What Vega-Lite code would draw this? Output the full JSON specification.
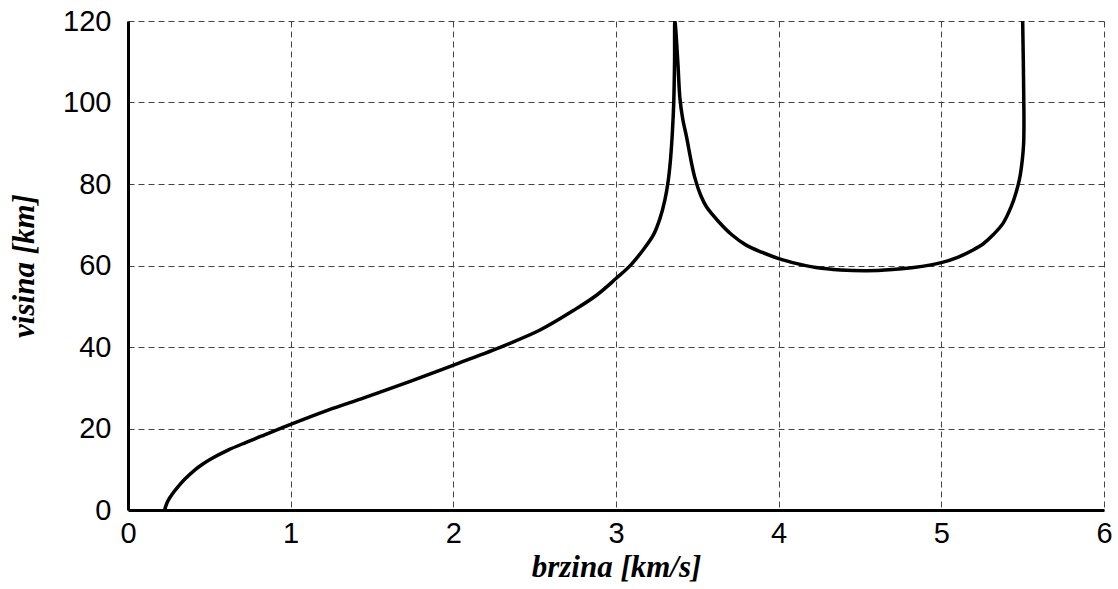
{
  "$schema": "https://vega.github.io/schema/vega-lite/v6.json",
  "width": 976,
  "height": 489,
  "autosize": "none",
  "padding": {"left": 128, "top": 21, "right": 14, "bottom": 79},
  "background": "white",
  "config": {"view": {"stroke": null}},
  "data": {"values": [
    {"i":1,"v":0.225,"h":0},
    {"i":2,"v":0.24,"h":1.8},
    {"i":3,"v":0.26,"h":3.2},
    {"i":4,"v":0.285,"h":4.6},
    {"i":5,"v":0.307,"h":5.7},
    {"i":6,"v":0.35,"h":7.6},
    {"i":7,"v":0.41,"h":9.8},
    {"i":8,"v":0.46,"h":11.3},
    {"i":9,"v":0.512,"h":12.6},
    {"i":10,"v":0.615,"h":14.7},
    {"i":11,"v":0.72,"h":16.5},
    {"i":12,"v":0.82,"h":18.1},
    {"i":13,"v":1.0,"h":21.0},
    {"i":14,"v":1.23,"h":24.5},
    {"i":15,"v":1.45,"h":27.5},
    {"i":16,"v":1.64,"h":30.2},
    {"i":17,"v":1.85,"h":33.3},
    {"i":18,"v":2.03,"h":36.0},
    {"i":19,"v":2.31,"h":40.3},
    {"i":20,"v":2.53,"h":44.1},
    {"i":21,"v":2.74,"h":49.0},
    {"i":22,"v":2.88,"h":52.7},
    {"i":23,"v":3.0,"h":56.8},
    {"i":24,"v":3.09,"h":60.1},
    {"i":25,"v":3.17,"h":64},
    {"i":26,"v":3.23,"h":67.5},
    {"i":27,"v":3.27,"h":71.5},
    {"i":28,"v":3.30,"h":76.0},
    {"i":29,"v":3.32,"h":80.5},
    {"i":30,"v":3.335,"h":86},
    {"i":31,"v":3.347,"h":93},
    {"i":32,"v":3.355,"h":100},
    {"i":33,"v":3.36,"h":110},
    {"i":34,"v":3.362,"h":120},
    {"i":35,"v":3.38,"h":110},
    {"i":36,"v":3.393,"h":101},
    {"i":37,"v":3.41,"h":96},
    {"i":38,"v":3.434,"h":91.5},
    {"i":39,"v":3.46,"h":86},
    {"i":40,"v":3.485,"h":81.5},
    {"i":41,"v":3.52,"h":77.3},
    {"i":42,"v":3.556,"h":74.4},
    {"i":43,"v":3.63,"h":70.8},
    {"i":44,"v":3.71,"h":67.6},
    {"i":45,"v":3.80,"h":65.0},
    {"i":46,"v":3.90,"h":63.2},
    {"i":47,"v":4.0,"h":61.7},
    {"i":48,"v":4.12,"h":60.4},
    {"i":49,"v":4.23,"h":59.5},
    {"i":50,"v":4.38,"h":58.9},
    {"i":51,"v":4.54,"h":58.7},
    {"i":52,"v":4.70,"h":59.0},
    {"i":53,"v":4.83,"h":59.5},
    {"i":54,"v":5.0,"h":60.7},
    {"i":55,"v":5.1,"h":62},
    {"i":56,"v":5.195,"h":63.8},
    {"i":57,"v":5.26,"h":65.4},
    {"i":58,"v":5.32,"h":67.6},
    {"i":59,"v":5.38,"h":70.4},
    {"i":60,"v":5.43,"h":74.5},
    {"i":61,"v":5.46,"h":78},
    {"i":62,"v":5.482,"h":81.5},
    {"i":63,"v":5.498,"h":86},
    {"i":64,"v":5.506,"h":90},
    {"i":65,"v":5.508,"h":95},
    {"i":66,"v":5.507,"h":100},
    {"i":67,"v":5.504,"h":110},
    {"i":68,"v":5.50,"h":120}
  ]},
  "mark": {"type": "line", "color": "black", "strokeWidth": 3.5, "clip": true, "interpolate": "catmull-rom"},
  "encoding": {
    "order": {"field": "i", "type": "quantitative"},
    "x": {
      "field": "v", "type": "quantitative",
      "scale": {"domain": [0, 6], "nice": false, "zero": false},
      "axis": {
        "values": [0,1,2,3,4,5,6],
        "title": "brzina [km/s]",
        "titleFont": "Liberation Serif", "titleFontSize": 31, "titleFontWeight": "bold", "titleFontStyle": "italic",
        "titleColor": "black", "titlePadding": 4,
        "labelFont": "Liberation Sans", "labelFontSize": 29, "labelColor": "black", "labelPadding": 9,
        "labelFlush": false,
        "ticks": false,
        "domainColor": "black", "domainWidth": 3,
        "grid": true, "gridColor": "#444", "gridDash": [6, 4], "gridWidth": 1
      }
    },
    "y": {
      "field": "h", "type": "quantitative",
      "scale": {"domain": [0, 120], "nice": false, "zero": false},
      "axis": {
        "values": [0,20,40,60,80,100,120],
        "title": "visina [km]",
        "titleFont": "Liberation Serif", "titleFontSize": 31, "titleFontWeight": "bold", "titleFontStyle": "italic",
        "titleColor": "black", "titlePadding": 22,
        "labelFont": "Liberation Sans", "labelFontSize": 29, "labelColor": "black", "labelPadding": 17,
        "labelFlush": false,
        "ticks": false,
        "domainColor": "black", "domainWidth": 3,
        "grid": true, "gridColor": "#444", "gridDash": [6, 4], "gridWidth": 1
      }
    }
  }
}
